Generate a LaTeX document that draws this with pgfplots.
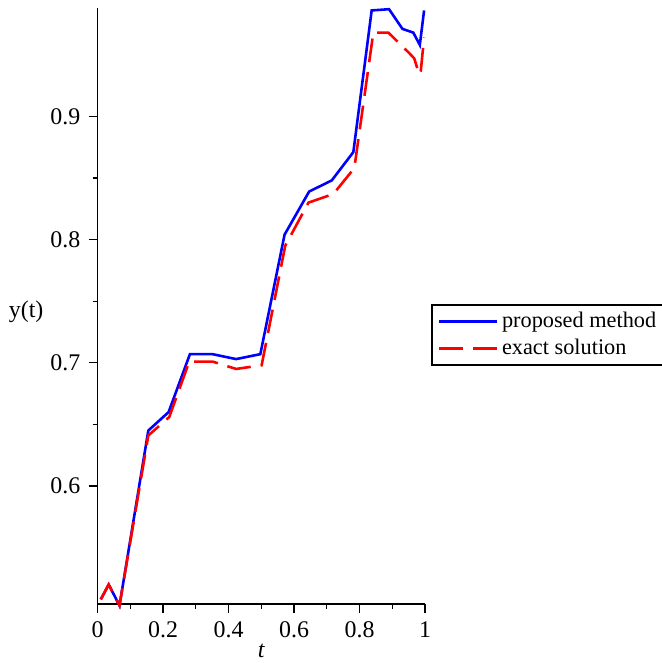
\documentclass[border=0pt]{standalone}
\usepackage{fontspec}
\setmainfont{Liberation Serif}
\usepackage{pgfplots}
\pgfplotsset{compat=1.18}

\pgfplotstableread{
t y
0.010 0.508
0.034 0.520
0.067 0.503
0.155 0.645
0.217 0.660
0.282 0.707
0.351 0.707
0.423 0.703
0.497 0.707
0.571 0.804
0.646 0.839
0.715 0.848
0.781 0.871
0.837 0.986
0.890 0.987
0.931 0.971
0.964 0.968
0.984 0.958
0.997 0.986
}\proposed

\pgfplotstableread{
t y
0.010 0.508
0.034 0.520
0.067 0.503
0.155 0.641
0.219 0.656
0.280 0.701
0.351 0.701
0.423 0.695
0.501 0.698
0.573 0.795
0.644 0.830
0.720 0.837
0.784 0.858
0.842 0.968
0.888 0.968
0.953 0.951
0.967 0.947
0.982 0.934
0.987 0.937
0.997 0.964
}\exact

\begin{document}
\fontsize{12}{14}\selectfont
\begin{tikzpicture}
\begin{axis}[
    name=ax,
    scale only axis,
    width=164.5pt, height=299.5pt,
    xmin=0, xmax=1,
    ymin=0.504, ymax=0.988,
    axis x line=bottom, axis y line=left,
    axis line style={-, line width=0.8pt},
    tick align=outside,
    major tick length=4.5pt, minor tick length=2.5pt,
    tick style={black, line width=0.6pt},
    tick label style={font=\fontsize{12}{14}\selectfont},
    xtick={0,0.2,0.4,0.6,0.8,1},
    xticklabels={0,0.2,0.4,0.6,0.8,1},
    ytick={0.6,0.7,0.8,0.9},
    yticklabels={0.6,0.7,0.8,0.9},
    minor x tick num=1, minor y tick num=1,
    xlabel={\textit{t}},
    xlabel style={at={(rel axis cs:0.5,0)}, anchor=north, inner sep=0pt, yshift=-20pt},
    clip=false,
    legend style={at={(rel axis cs:1.018,0.4516)}, anchor=west,
        draw=black, line width=0.8pt, font=\fontsize{11.2}{13}\selectfont,
        inner xsep=3pt, inner ysep=1.5pt, row sep=0pt,
        cells={anchor=west}},
    legend cell align=left,
    legend image code/.code={\draw[#1] (0pt,0pt) -- (29pt,0pt);},
]
\addplot[blue, line width=1.3pt] table[x=t, y=y] {\proposed};
\addplot[red, line width=1.3pt, dash pattern=on 12pt off 5pt] table[x=t, y=y] {\exact};
\legend{proposed method, exact solution}
\node[anchor=east] at (rel axis cs:0,0.49) [xshift=-23pt] {y(t)};
\end{axis}
\pgfresetboundingbox
\useasboundingbox ([xshift=-49pt,yshift=-29.5pt]ax.south west) rectangle ([xshift=118.5pt,yshift=4pt]ax.north east);
\end{tikzpicture}
\end{document}
